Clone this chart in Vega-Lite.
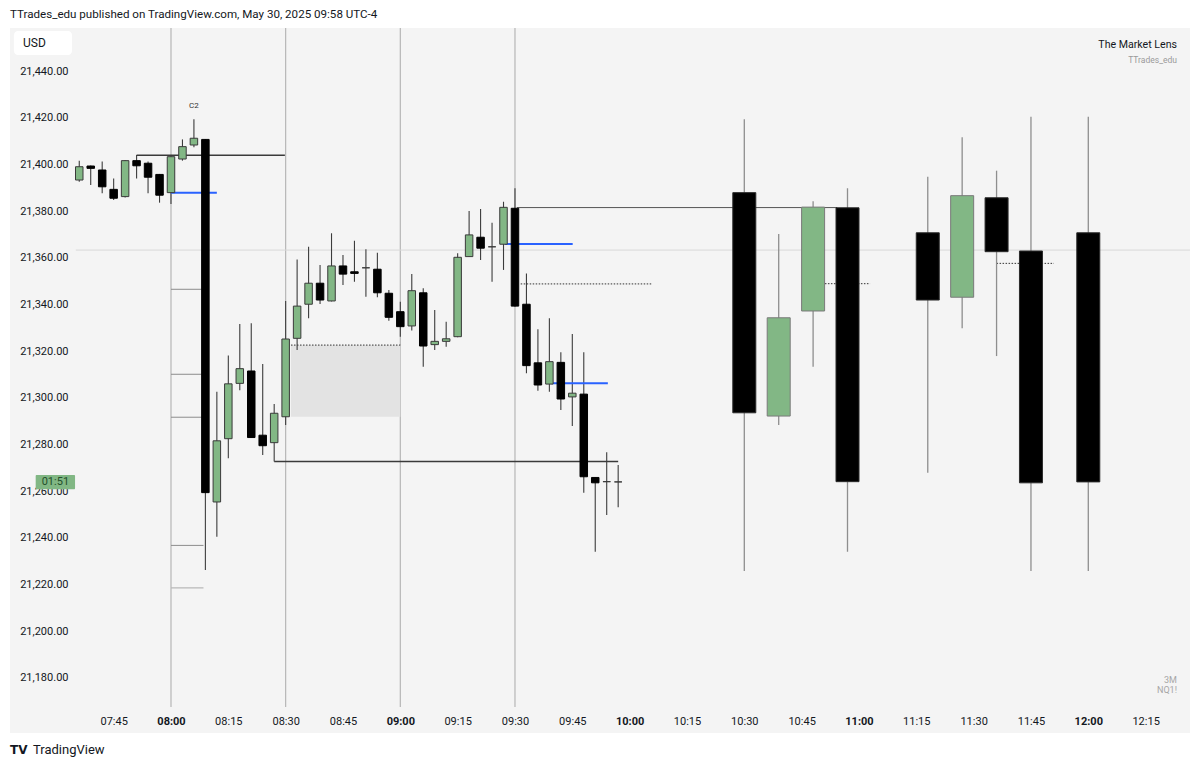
{
  "$schema": "https://vega.github.io/schema/vega-lite/v6.json",
  "width": 1180,
  "height": 705,
  "autosize": {"type": "none"},
  "padding": {"left": 10, "top": 28, "right": 10, "bottom": 35},
  "background": "#ffffff",
  "title": {
    "text": "TTrades_edu published on TradingView.com, May 30, 2025 09:58 UTC-4",
    "anchor": "start",
    "frame": "group",
    "offset": 7,
    "fontSize": 11.6,
    "fontWeight": "normal",
    "font": "Roboto",
    "color": "#131722"
  },
  "config": {
    "view": {"fill": "#f4f4f4", "stroke": null},
    "font": "Roboto"
  },
  "resolve": {"axis": {"x": "independent", "y": "independent"}},
  "datasets": {
    "sessions": [{"t": 480}, {"t": 510}, {"t": 540}, {"t": 570}],
    "candles": [
      {"tf": "3m", "t": 456, "o": 21393.3, "h": 21401.6, "l": 21392.6, "c": 21399.0},
      {"tf": "3m", "t": 459, "o": 21399.3, "h": 21399.5, "l": 21391.2, "c": 21398.3},
      {"tf": "3m", "t": 462, "o": 21397.6, "h": 21401.2, "l": 21387.6, "c": 21390.4},
      {"tf": "3m", "t": 465, "o": 21389.3, "h": 21394.0, "l": 21384.7, "c": 21385.5},
      {"tf": "3m", "t": 468, "o": 21386.2, "h": 21401.8, "l": 21385.8, "c": 21401.6},
      {"tf": "3m", "t": 471, "o": 21401.6, "h": 21404.0, "l": 21394.0, "c": 21399.4},
      {"tf": "3m", "t": 474, "o": 21400.5, "h": 21401.2, "l": 21387.6, "c": 21394.5},
      {"tf": "3m", "t": 477, "o": 21395.7, "h": 21395.9, "l": 21383.6, "c": 21386.8},
      {"tf": "3m", "t": 480, "o": 21387.9, "h": 21403.5, "l": 21383.0, "c": 21403.3},
      {"tf": "3m", "t": 483, "o": 21402.3, "h": 21410.7, "l": 21401.6, "c": 21407.6},
      {"tf": "3m", "t": 486, "o": 21408.3, "h": 21419.3, "l": 21407.3, "c": 21411.2},
      {"tf": "3m", "t": 489, "o": 21410.7, "h": 21410.9, "l": 21226.3, "c": 21259.4},
      {"tf": "3m", "t": 492, "o": 21255.4, "h": 21302.6, "l": 21240.5, "c": 21281.6},
      {"tf": "3m", "t": 495, "o": 21282.5, "h": 21318.1, "l": 21274.1, "c": 21306.0},
      {"tf": "3m", "t": 498, "o": 21306.2, "h": 21331.6, "l": 21303.3, "c": 21312.5},
      {"tf": "3m", "t": 501, "o": 21311.5, "h": 21331.9, "l": 21283.0, "c": 21283.0},
      {"tf": "3m", "t": 504, "o": 21284.0, "h": 21314.5, "l": 21275.5, "c": 21279.5},
      {"tf": "3m", "t": 507, "o": 21280.8, "h": 21297.4, "l": 21272.7, "c": 21293.4},
      {"tf": "3m", "t": 510, "o": 21291.9, "h": 21341.5, "l": 21288.4, "c": 21325.2},
      {"tf": "3m", "t": 513, "o": 21325.5, "h": 21359.3, "l": 21320.5, "c": 21339.3},
      {"tf": "3m", "t": 516, "o": 21340.1, "h": 21364.7, "l": 21334.1, "c": 21349.1},
      {"tf": "3m", "t": 519, "o": 21349.1, "h": 21356.9, "l": 21340.2, "c": 21341.9},
      {"tf": "3m", "t": 522, "o": 21341.5, "h": 21370.5, "l": 21341.3, "c": 21356.5},
      {"tf": "3m", "t": 525, "o": 21356.5, "h": 21361.2, "l": 21348.3, "c": 21353.0},
      {"tf": "3m", "t": 528, "o": 21354.0, "h": 21367.3, "l": 21349.7, "c": 21353.3},
      {"tf": "3m", "t": 531, "o": 21355.7, "h": 21363.6, "l": 21343.3, "c": 21355.7},
      {"tf": "3m", "t": 534, "o": 21355.1, "h": 21362.2, "l": 21343.1, "c": 21345.0},
      {"tf": "3m", "t": 537, "o": 21344.8, "h": 21346.2, "l": 21333.0, "c": 21334.5},
      {"tf": "3m", "t": 540, "o": 21336.9, "h": 21341.2, "l": 21326.2, "c": 21330.5},
      {"tf": "3m", "t": 543, "o": 21330.8, "h": 21353.0, "l": 21328.8, "c": 21345.9},
      {"tf": "3m", "t": 546, "o": 21345.0, "h": 21346.9, "l": 21313.3, "c": 21322.2},
      {"tf": "3m", "t": 549, "o": 21322.8, "h": 21337.6, "l": 21320.5, "c": 21324.2},
      {"tf": "3m", "t": 552, "o": 21324.2, "h": 21332.6, "l": 21321.9, "c": 21325.3},
      {"tf": "3m", "t": 555, "o": 21326.2, "h": 21361.9, "l": 21326.0, "c": 21360.2},
      {"tf": "3m", "t": 558, "o": 21360.5, "h": 21380.0, "l": 21360.3, "c": 21369.8},
      {"tf": "3m", "t": 561, "o": 21368.8, "h": 21380.9, "l": 21359.0, "c": 21364.1},
      {"tf": "3m", "t": 564, "o": 21364.7, "h": 21375.0, "l": 21349.7, "c": 21364.7},
      {"tf": "3m", "t": 567, "o": 21365.8, "h": 21384.0, "l": 21354.8, "c": 21381.6},
      {"tf": "3m", "t": 570, "o": 21381.2, "h": 21389.8, "l": 21339.0, "c": 21339.3},
      {"tf": "3m", "t": 573, "o": 21340.1, "h": 21353.3, "l": 21310.5, "c": 21313.8},
      {"tf": "3m", "t": 576, "o": 21315.0, "h": 21329.4, "l": 21303.0, "c": 21305.5},
      {"tf": "3m", "t": 579, "o": 21305.9, "h": 21334.1, "l": 21302.6, "c": 21315.5},
      {"tf": "3m", "t": 582, "o": 21315.2, "h": 21319.5, "l": 21294.8, "c": 21299.5},
      {"tf": "3m", "t": 585, "o": 21300.4, "h": 21327.3, "l": 21287.9, "c": 21302.0},
      {"tf": "3m", "t": 588, "o": 21301.6, "h": 21319.5, "l": 21259.4, "c": 21266.2},
      {"tf": "3m", "t": 591, "o": 21265.9, "h": 21266.0, "l": 21234.1, "c": 21263.6},
      {"tf": "3m", "t": 594, "o": 21264.1, "h": 21276.7, "l": 21249.8, "c": 21264.1},
      {"tf": "3m", "t": 597, "o": 21264.0, "h": 21271.2, "l": 21253.1, "c": 21264.0},
      {"tf": "htf", "t": 630, "o": 21387.9, "h": 21419.3, "l": 21225.8, "c": 21293.6},
      {"tf": "htf", "t": 639, "o": 21292.2, "h": 21370.2, "l": 21288.4, "c": 21334.3},
      {"tf": "htf", "t": 648, "o": 21337.2, "h": 21384.2, "l": 21313.3, "c": 21381.7},
      {"tf": "htf", "t": 657, "o": 21381.4, "h": 21389.8, "l": 21234.1, "c": 21264.1},
      {"tf": "htf", "t": 678, "o": 21370.7, "h": 21394.7, "l": 21267.9, "c": 21341.9},
      {"tf": "htf", "t": 687, "o": 21343.1, "h": 21411.6, "l": 21329.8, "c": 21386.6},
      {"tf": "htf", "t": 696, "o": 21385.7, "h": 21397.3, "l": 21317.9, "c": 21362.6},
      {"tf": "htf", "t": 705, "o": 21362.9, "h": 21420.4, "l": 21225.8, "c": 21263.6},
      {"tf": "htf", "t": 720, "o": 21370.7, "h": 21420.4, "l": 21225.8, "c": 21264.0}
    ],
    "levels": [
      {"kind": "cross", "p": 21363.3, "t1": 455.1, "t2": 746.6},
      {"kind": "swing", "p": 21403.9, "t1": 471, "t2": 509.8},
      {"kind": "swing", "p": 21272.7, "t1": 507, "t2": 597},
      {"kind": "open", "p": 21387.9, "t1": 480, "t2": 492},
      {"kind": "open", "p": 21365.9, "t1": 567.4, "t2": 585.1},
      {"kind": "open", "p": 21306.2, "t1": 579.5, "t2": 594.3},
      {"kind": "htf", "p": 21381.5, "t1": 570.5, "t2": 654.3},
      {"kind": "mid", "p": 21322.6, "t1": 511.4, "t2": 540},
      {"kind": "mid", "p": 21348.8, "t1": 571.5, "t2": 605.8},
      {"kind": "mid", "p": 21348.9, "t1": 651.1, "t2": 662.9},
      {"kind": "mid", "p": 21357.6, "t1": 696, "t2": 711},
      {"kind": "range", "p": 21346.5, "t1": 480, "t2": 488.5},
      {"kind": "range", "p": 21310.1, "t1": 480, "t2": 488.5},
      {"kind": "range", "p": 21291.7, "t1": 480, "t2": 488.5},
      {"kind": "range", "p": 21236.8, "t1": 480, "t2": 488.5},
      {"kind": "range2", "p": 21218.6, "t1": 480, "t2": 488.5}
    ],
    "boxes": [
      {"role": "fvg", "t1": 511.4, "t2": 540, "p1": 21291.9, "p2": 21322.6},
      {"role": "currency", "t1": 438.9, "t2": 454.1, "p1": 21457.1, "p2": 21446.9},
      {"role": "countdown", "t1": 444.6, "t2": 454.9, "p1": 21266.9, "p2": 21260.9}
    ],
    "notes": [
      {"role": "pattern", "t": 486, "p": 21425.0, "label": "C2"},
      {"role": "brand", "t": 743.2, "p": 21451.1, "label": "The Market Lens"},
      {"role": "author", "t": 743.2, "p": 21444.7, "label": "TTrades_edu"},
      {"role": "symbol", "t": 743.2, "p": 21179.1, "label": "3M"},
      {"role": "symbol", "t": 743.2, "p": 21175.0, "label": "NQ1!"},
      {"role": "logo", "t": 443.9, "p": 21149.2, "label": "TradingView"},
      {"role": "logomark", "t": 437.9, "p": 21149.2, "label": "TV"},
      {"role": "currency", "t": 441.3, "p": 21452.0, "label": "USD"},
      {"role": "countdown", "t": 449.75, "p": 21263.9, "label": "01:51"}
    ]
  },
  "layer": [
    {
      "data": {"name": "sessions"},
      "mark": {"type": "rule", "color": "#b6b6b6", "strokeWidth": 1.2},
      "encoding": {
        "x": {
          "field": "t", "type": "quantitative",
          "scale": {"domain": [437.88, 746.61], "nice": false, "zero": false, "padding": 0},
          "axis": {
            "orient": "bottom", "offset": -18, "title": null, "domain": false, "ticks": false, "grid": false,
            "labelPadding": 0, "labelFontSize": 11, "labelColor": "#131722", "labelFont": "Roboto",
            "labelFlush": false, "labelOverlap": false,
            "values": [465, 480, 495, 510, 525, 540, 555, 570, 585, 600, 615, 630, 645, 660, 675, 690, 705, 720, 735],
            "labelExpr": "(floor(datum.value/60) < 10 ? '0' : '') + floor(datum.value/60) + ':' + (datum.value % 60 < 10 ? '0' : '') + (datum.value % 60)",
            "labelFontWeight": {"condition": {"test": "datum.value % 60 === 0", "value": "bold"}, "value": "normal"}
          }
        },
        "y": {
          "datum": 21458.4, "type": "quantitative",
          "scale": {"domain": [21156.44, 21458.42], "nice": false, "zero": false, "padding": 0},
          "axis": {
            "orient": "left", "offset": -58, "title": null, "domain": false, "ticks": false, "grid": false,
            "labelPadding": 0, "labelFontSize": 11, "labelColor": "#131722", "labelFont": "Roboto",
            "labelFlush": false, "labelOverlap": false, "format": ",.2f",
            "values": [21180, 21200, 21220, 21240, 21260, 21280, 21300, 21320, 21340, 21360, 21380, 21400, 21420, 21440]
          }
        },
        "y2": {"datum": 21167.6}
      }
    },
    {
      "data": {"name": "boxes"},
      "transform": [{"filter": "datum.role === 'fvg'"}],
      "mark": {"type": "rect", "fill": "#e3e3e3"},
      "encoding": {
        "x": {"field": "t1", "type": "quantitative", "axis": null},
        "x2": {"field": "t2"},
        "y": {"field": "p1", "type": "quantitative", "axis": null},
        "y2": {"field": "p2"}
      }
    },
    {
      "data": {"name": "levels"},
      "transform": [{"filter": "datum.kind === 'cross'"}],
      "mark": {"type": "rule", "color": "#d9d9d9", "strokeWidth": 1},
      "encoding": {
        "x": {"field": "t1", "type": "quantitative", "axis": null},
        "x2": {"field": "t2"},
        "y": {"field": "p", "type": "quantitative", "axis": null}
      }
    },
    {
      "data": {"name": "levels"},
      "transform": [{"filter": "datum.kind === 'range'"}],
      "mark": {"type": "rule", "color": "#8c8c8c", "strokeWidth": 1},
      "encoding": {
        "x": {"field": "t1", "type": "quantitative", "axis": null},
        "x2": {"field": "t2"},
        "y": {"field": "p", "type": "quantitative", "axis": null}
      }
    },
    {
      "data": {"name": "levels"},
      "transform": [{"filter": "datum.kind === 'range2'"}],
      "mark": {"type": "rule", "color": "#b8b8b8", "strokeWidth": 1.2},
      "encoding": {
        "x": {"field": "t1", "type": "quantitative", "axis": null},
        "x2": {"field": "t2"},
        "y": {"field": "p", "type": "quantitative", "axis": null}
      }
    },
    {
      "data": {"name": "levels"},
      "transform": [{"filter": "datum.kind === 'htf'"}],
      "mark": {"type": "rule", "color": "#555555", "strokeWidth": 1},
      "encoding": {
        "x": {"field": "t1", "type": "quantitative", "axis": null},
        "x2": {"field": "t2"},
        "y": {"field": "p", "type": "quantitative", "axis": null}
      }
    },
    {
      "data": {"name": "levels"},
      "transform": [{"filter": "datum.kind === 'swing'"}],
      "mark": {"type": "rule", "color": "#3a3a3a", "strokeWidth": 1.5},
      "encoding": {
        "x": {"field": "t1", "type": "quantitative", "axis": null},
        "x2": {"field": "t2"},
        "y": {"field": "p", "type": "quantitative", "axis": null}
      }
    },
    {
      "data": {"name": "levels"},
      "transform": [{"filter": "datum.kind === 'mid'"}],
      "mark": {"type": "rule", "color": "#333333", "strokeWidth": 1, "strokeDash": [1.5, 1.5]},
      "encoding": {
        "x": {"field": "t1", "type": "quantitative", "axis": null},
        "x2": {"field": "t2"},
        "y": {"field": "p", "type": "quantitative", "axis": null}
      }
    },
    {
      "data": {"name": "candles"},
      "transform": [{"filter": "datum.tf === '3m'"}],
      "mark": {"type": "rule", "color": "#3c3c3c", "strokeWidth": 1.1},
      "encoding": {
        "x": {"field": "t", "type": "quantitative", "axis": null},
        "y": {"field": "l", "type": "quantitative", "axis": null},
        "y2": {"field": "h"}
      }
    },
    {
      "data": {"name": "candles"},
      "transform": [{"filter": "datum.tf === 'htf'"}],
      "mark": {"type": "rule", "color": "#8e8e8e", "strokeWidth": 1.3},
      "encoding": {
        "x": {"field": "t", "type": "quantitative", "axis": null},
        "y": {"field": "l", "type": "quantitative", "axis": null},
        "y2": {"field": "h"}
      }
    },
    {
      "data": {"name": "levels"},
      "transform": [{"filter": "datum.kind === 'open'"}],
      "mark": {"type": "rule", "color": "#2962ff", "strokeWidth": 2},
      "encoding": {
        "x": {"field": "t1", "type": "quantitative", "axis": null},
        "x2": {"field": "t2"},
        "y": {"field": "p", "type": "quantitative", "axis": null}
      }
    },
    {
      "data": {"name": "candles"},
      "transform": [{"filter": "datum.tf === '3m'"}],
      "mark": {"type": "bar", "width": 7.5, "strokeWidth": 1},
      "encoding": {
        "x": {"field": "t", "type": "quantitative", "axis": null},
        "y": {"field": "o", "type": "quantitative", "axis": null},
        "y2": {"field": "c"},
        "fill": {"condition": {"test": "datum.c >= datum.o", "value": "#82b785"}, "value": "#000000"},
        "stroke": {"condition": {"test": "datum.c >= datum.o", "value": "#3a3a3a"}, "value": "#000000"}
      }
    },
    {
      "data": {"name": "candles"},
      "transform": [{"filter": "datum.tf === 'htf'"}],
      "mark": {"type": "bar", "width": 23, "strokeWidth": 1},
      "encoding": {
        "x": {"field": "t", "type": "quantitative", "axis": null},
        "y": {"field": "o", "type": "quantitative", "axis": null},
        "y2": {"field": "c"},
        "fill": {"condition": {"test": "datum.c >= datum.o", "value": "#82b785"}, "value": "#000000"},
        "stroke": {"condition": {"test": "datum.c >= datum.o", "value": "#7a7a7a"}, "value": "#2a2a2a"}
      }
    },
    {
      "data": {"name": "boxes"},
      "transform": [{"filter": "datum.role === 'currency'"}],
      "mark": {"type": "rect", "fill": "#ffffff", "cornerRadius": 4},
      "encoding": {
        "x": {"field": "t1", "type": "quantitative", "axis": null},
        "x2": {"field": "t2"},
        "y": {"field": "p1", "type": "quantitative", "axis": null},
        "y2": {"field": "p2"}
      }
    },
    {
      "data": {"name": "boxes"},
      "transform": [{"filter": "datum.role === 'countdown'"}],
      "mark": {"type": "rect", "fill": "#81b784", "cornerRadius": 1},
      "encoding": {
        "x": {"field": "t1", "type": "quantitative", "axis": null},
        "x2": {"field": "t2"},
        "y": {"field": "p1", "type": "quantitative", "axis": null},
        "y2": {"field": "p2"}
      }
    },
    {
      "data": {"name": "notes"},
      "transform": [{"filter": "datum.role === 'currency'"}],
      "mark": {"type": "text", "align": "left", "baseline": "middle", "fontSize": 12, "color": "#131722", "font": "Roboto"},
      "encoding": {
        "x": {"field": "t", "type": "quantitative", "axis": null},
        "y": {"field": "p", "type": "quantitative", "axis": null},
        "text": {"field": "label"}
      }
    },
    {
      "data": {"name": "notes"},
      "transform": [{"filter": "datum.role === 'countdown'"}],
      "mark": {"type": "text", "align": "center", "baseline": "middle", "fontSize": 11, "color": "#24502a", "font": "Roboto"},
      "encoding": {
        "x": {"field": "t", "type": "quantitative", "axis": null},
        "y": {"field": "p", "type": "quantitative", "axis": null},
        "text": {"field": "label"}
      }
    },
    {
      "data": {"name": "notes"},
      "transform": [{"filter": "datum.role === 'pattern'"}],
      "mark": {"type": "text", "align": "center", "baseline": "middle", "fontSize": 8, "color": "#333333", "font": "Roboto"},
      "encoding": {
        "x": {"field": "t", "type": "quantitative", "axis": null},
        "y": {"field": "p", "type": "quantitative", "axis": null},
        "text": {"field": "label"}
      }
    },
    {
      "data": {"name": "notes"},
      "transform": [{"filter": "datum.role === 'brand'"}],
      "mark": {"type": "text", "align": "right", "baseline": "middle", "fontSize": 10.6, "color": "#131722", "font": "Roboto"},
      "encoding": {
        "x": {"field": "t", "type": "quantitative", "axis": null},
        "y": {"field": "p", "type": "quantitative", "axis": null},
        "text": {"field": "label"}
      }
    },
    {
      "data": {"name": "notes"},
      "transform": [{"filter": "datum.role === 'author'"}],
      "mark": {"type": "text", "align": "right", "baseline": "middle", "fontSize": 8.5, "color": "#9a9a9a", "font": "Roboto"},
      "encoding": {
        "x": {"field": "t", "type": "quantitative", "axis": null},
        "y": {"field": "p", "type": "quantitative", "axis": null},
        "text": {"field": "label"}
      }
    },
    {
      "data": {"name": "notes"},
      "transform": [{"filter": "datum.role === 'symbol'"}],
      "mark": {"type": "text", "align": "right", "baseline": "middle", "fontSize": 9, "color": "#a6a6a6", "font": "Roboto"},
      "encoding": {
        "x": {"field": "t", "type": "quantitative", "axis": null},
        "y": {"field": "p", "type": "quantitative", "axis": null},
        "text": {"field": "label"}
      }
    },
    {
      "data": {"name": "notes"},
      "transform": [{"filter": "datum.role === 'logo'"}],
      "mark": {"type": "text", "align": "left", "baseline": "middle", "fontSize": 13, "color": "#131722", "font": "Roboto"},
      "encoding": {
        "x": {"field": "t", "type": "quantitative", "axis": null},
        "y": {"field": "p", "type": "quantitative", "axis": null},
        "text": {"field": "label"}
      }
    },
    {
      "data": {"name": "notes"},
      "transform": [{"filter": "datum.role === 'logomark'"}],
      "mark": {"type": "text", "align": "left", "baseline": "middle", "fontSize": 12, "fontWeight": "bold", "color": "#131722", "font": "DejaVu Sans"},
      "encoding": {
        "x": {"field": "t", "type": "quantitative", "axis": null},
        "y": {"field": "p", "type": "quantitative", "axis": null},
        "text": {"field": "label"}
      }
    }
  ]
}
